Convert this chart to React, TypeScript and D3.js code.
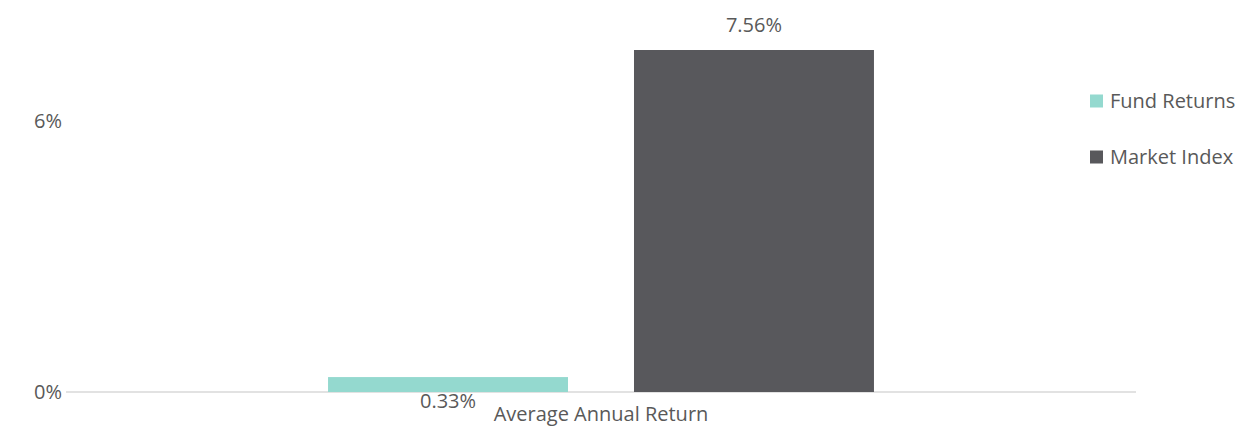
import React, { useEffect, useRef } from "react";
import * as d3 from "d3";

const categories: string[] = ["Average Annual Return"];
const seriesNames: string[] = ["Fund Returns", "Market Index"];
const fundValues: number[] = [0.33];
const marketValues: number[] = [7.56];
const yTicks: number[] = [0, 6];

const colors = ["#94D9CF", "#58585C"];
const textColor = "#595959";
const font = "'Open Sans', sans-serif";
const fontSize = "20px";

const App: React.FC = () => {
  const svgRef = useRef<SVGSVGElement | null>(null);

  useEffect(() => {
    const svg = d3.select(svgRef.current);
    svg.selectAll("*").remove();

    const width = 1243;
    const margin = { left: 66, right: 107 };

    const values = [fundValues, marketValues];

    const x0 = d3
      .scaleBand()
      .domain(categories)
      .range([margin.left, width - margin.right])
      .paddingInner(0)
      .paddingOuter(0.48);

    const x1 = d3
      .scaleBand()
      .domain(seriesNames)
      .range([0, x0.bandwidth()])
      .paddingInner(0.2157)
      .paddingOuter(0);

    const y = d3.scaleLinear().domain([0, 7.56]).range([392, 50]);

    // axis baseline
    svg
      .append("line")
      .attr("x1", margin.left)
      .attr("x2", width - margin.right)
      .attr("y1", y(0))
      .attr("y2", y(0))
      .attr("stroke", "#D9D9D9")
      .attr("stroke-width", 1.5);

    // y tick labels
    svg
      .selectAll("text.ytick")
      .data(yTicks)
      .join("text")
      .attr("class", "ytick")
      .attr("x", 62)
      .attr("y", (d) => y(d))
      .attr("dy", "0.35em")
      .attr("text-anchor", "end")
      .attr("fill", textColor)
      .style("font-family", font)
      .style("font-size", fontSize)
      .text((d) => `${d}%`);

    // bars
    categories.forEach((cat, ci) => {
      seriesNames.forEach((s, si) => {
        const v = values[si][ci];
        svg
          .append("rect")
          .attr("x", x0(cat)! + x1(s)!)
          .attr("y", y(v))
          .attr("width", x1.bandwidth())
          .attr("height", y(0) - y(v))
          .attr("fill", colors[si]);
      });
    });

    // value labels + category label
    categories.forEach((cat, ci) => {
      const fx = x0(cat)! + x1(seriesNames[0])! + x1.bandwidth() / 2;
      svg
        .append("text")
        .attr("x", fx)
        .attr("y", y(0) + 9)
        .attr("dy", "0.35em")
        .attr("text-anchor", "middle")
        .attr("fill", textColor)
        .style("font-family", font)
        .style("font-size", fontSize)
        .text(`${fundValues[ci].toFixed(2)}%`);

      const mx = x0(cat)! + x1(seriesNames[1])! + x1.bandwidth() / 2;
      svg
        .append("text")
        .attr("x", mx)
        .attr("y", y(marketValues[ci]) - 25)
        .attr("dy", "0.35em")
        .attr("text-anchor", "middle")
        .attr("fill", textColor)
        .style("font-family", font)
        .style("font-size", fontSize)
        .text(`${marketValues[ci].toFixed(2)}%`);

      svg
        .append("text")
        .attr("x", x0(cat)! + x0.bandwidth() / 2)
        .attr("y", y(0) + 22)
        .attr("dy", "0.35em")
        .attr("text-anchor", "middle")
        .attr("fill", textColor)
        .style("font-family", font)
        .style("font-size", fontSize)
        .text(cat);
    });

    // legend
    const legend = svg
      .selectAll("g.legend")
      .data(seriesNames)
      .join("g")
      .attr("class", "legend")
      .attr("transform", (_d, i) => `translate(1090,${101 + i * 56})`);

    legend
      .append("rect")
      .attr("x", 0)
      .attr("y", -6.5)
      .attr("width", 13)
      .attr("height", 13)
      .attr("fill", (_d, i) => colors[i]);

    legend
      .append("text")
      .attr("x", 20)
      .attr("y", 0)
      .attr("dy", "0.35em")
      .attr("fill", textColor)
      .style("font-family", font)
      .style("font-size", fontSize)
      .text((d) => d);
  }, []);

  return (
    <svg
      ref={svgRef}
      width={1243}
      height={429}
      style={{ position: "absolute", left: 0, top: 0, background: "#fff" }}
    />
  );
};

export default App;
